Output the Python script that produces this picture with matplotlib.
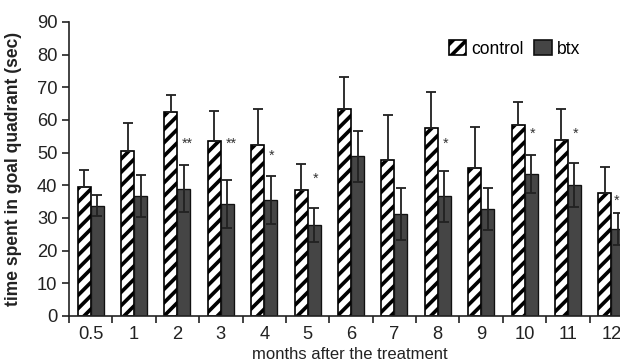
import matplotlib.pyplot as plt
from matplotlib.patches import Patch
import numpy as np

# data
months = ['0.5', '1', '2', '3', '4', '5', '6', '7', '8', '9', '10', '11', '12']
control = [39.5, 50.6, 62.3, 53.6, 52.3, 38.7, 63.4, 47.7, 57.6, 45.2, 58.4, 53.8, 37.7]
control_err = [5.3, 8.4, 5.4, 9.2, 11.2, 7.8, 9.9, 13.7, 10.9, 12.6, 7.1, 9.6, 7.8]
btx = [33.8, 36.8, 39.0, 34.2, 35.5, 27.9, 48.9, 31.2, 36.6, 32.8, 43.4, 40.1, 26.6]
btx_err = [3.3, 6.4, 7.1, 7.3, 7.4, 5.1, 7.8, 8.0, 7.9, 6.4, 5.8, 6.6, 5.0]
stars = ['', '', '**', '**', '*', '*', '', '', '*', '', '*', '*', '*']
star_y = [0, 0, 52.6, 52.6, 48.9, 42.0, 0, 0, 52.6, 0, 55.7, 55.7, 35.4]

plt.rcParams['font.family'] = ['Liberation Sans', 'DejaVu Sans']
plt.rcParams['hatch.linewidth'] = 2.2

fig = plt.figure(figsize=(620 / 120, 362 / 120), dpi=120)
ax = fig.add_axes([69 / 620, 46 / 362, 564 / 620, 294 / 362])

x = np.arange(len(months))
w = 0.3
ax.bar(x - w / 2, control, w, color='white', edgecolor='black', hatch='///', linewidth=1.0)
ax.errorbar(x - w / 2, control, yerr=[np.zeros(len(x)), control_err], fmt='none',
            ecolor='#222222', elinewidth=1.1, capsize=3, capthick=1.1)
ax.bar(x + w / 2, btx, w, color='#454545', edgecolor='#111111', linewidth=0.8)
ax.errorbar(x + w / 2, btx, yerr=btx_err, fmt='none',
            ecolor='#222222', elinewidth=1.1, capsize=3, capthick=1.1)

for xi, s, sy in zip(x, stars, star_y):
    if s:
        # last star sits at the clipped right edge; nudge it inside
        dx = 0.06 if xi == x[-1] else 0.11
        ax.text(xi + dx, sy, s, ha='left', va='center', fontsize=8.5, color='#333333')

ax.set_xlim(-0.5, len(months) - 0.5)
ax.set_ylim(0, 90)
ax.set_yticks(range(0, 91, 10))
ax.set_xticks(x)
ax.set_xticklabels(months)
ax.set_xticks(np.arange(-0.5, len(months), 1), minor=True)
ax.tick_params(axis='x', which='major', length=0, pad=6, labelsize=11, colors='#222222')
ax.tick_params(axis='x', which='minor', length=4, width=1, direction='out', color='#222222')
ax.tick_params(axis='y', length=4, width=1, pad=3, labelsize=11, colors='#222222')

for side in ['top', 'right']:
    ax.spines[side].set_visible(False)
for side in ['left', 'bottom']:
    ax.spines[side].set_linewidth(1.0)
    ax.spines[side].set_color('#222222')

ax.set_ylabel('time spent in goal quadrant (sec)', fontsize=10.5, fontweight='bold', color='#222222')
ax.yaxis.set_label_coords(-0.083, 0.5)
fig.text(350 / 620, 0.022, 'months after the treatment', ha='center', va='center',
         fontsize=10, color='#222222')

handles = [Patch(facecolor='white', edgecolor='black', hatch='///', label='control'),
           Patch(facecolor='#454545', edgecolor='#111111', label='btx')]
fig.legend(handles=handles, loc='upper right', bbox_to_anchor=(596 / 620, 1 - 24 / 362),
           ncol=2, frameon=False, handlelength=1.0, handleheight=1.0, handletextpad=0.3,
           columnspacing=0.6, fontsize=10.5)

plt.savefig('out.png', dpi=120)
